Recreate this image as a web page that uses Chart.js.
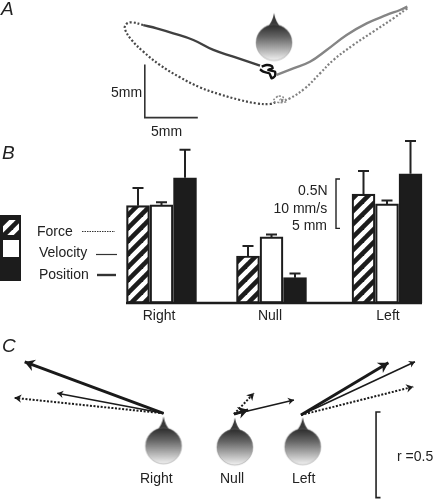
<!DOCTYPE html>
<html>
<head>
<meta charset="utf-8">
<title>Force, velocity and position</title>
<script src="https://cdn.jsdelivr.net/npm/chart.js@4"></script>
<style>
    html, body { margin: 0; padding: 0; background: #fff; overflow: hidden; }
    body { position: relative; width: 433px; height: 499px; }
    canvas { position: absolute; left: 0; }
    .note {
        position: absolute; white-space: nowrap; color: #222;
        font: 14px/16px "Liberation Sans", Arial, sans-serif;
    }
    .letter { font-size: 19px; line-height: 20px; font-style: italic; }
</style>
</head>
<body>
<canvas id="chartA" width="433" height="135" style="top:0"></canvas>
<canvas id="chartB" width="433" height="195" style="top:135px"></canvas>
<canvas id="chartC" width="433" height="169" style="top:330px"></canvas>

<script>
// Panel A : traces de la main, en mm
const leftSolid = [[-1.13, 0.60], [-3.65, 1.45], [-5.53, 2.08], [-7.42, 3.02], [-9.31, 3.65], [-10.88, 4.12], [-12.14, 4.43]];
const leftDotted = [[-12.14, 4.43], [-13.24, 4.69], [-13.77, 4.50], [-13.87, 4.03], [-13.24, 3.02], [-12.14, 1.92], [-10.57, 0.66],
    [-8.68, -0.50], [-6.79, -1.45], [-4.91, -2.11], [-3.02, -2.64], [-1.45, -2.96], [-0.19, -3.02], [0.44, -2.80]];
const rightSolid = [[0.44, -0.28], [2.01, 0.35], [3.58, 0.97], [5.16, 2.08], [7.04, 3.49], [8.93, 4.59], [10.82, 5.38], [12.08, 5.85], [12.77, 6.16]];
const rightDotted = [[12.77, 6.01], [11.45, 5.06], [9.56, 3.81], [7.67, 2.55], [5.79, 1.13], [4.53, -0.13], [3.11, -1.54], [1.70, -2.48], [0.75, -2.80]];
const startBlack = [[-0.97, 0.50], [-0.50, 0.66], [-0.03, 0.57], [0.06, 0.35], [-0.35, 0.19], [0.28, 0.03], [0.28, -0.38], [-0.03, -0.60], [-0.25, -0.13], [-0.82, 0.03], [-1.13, 0.25]];
const startGray = [[0.13, -2.64], [0.60, -2.26], [1.07, -2.39], [0.75, -2.64], [1.23, -2.58], [1.38, -2.80], [0.75, -2.89], [0.19, -2.80]];
const scaleBarMm = [[-12, 0.7], [-12, -4.3], [-7, -4.3]];

// Panel B : moyennes et erreurs
const categories = ['Right', 'Null', 'Left'];
const forceN = [0.987, 0.477, 1.105];
const forceErr = [0.18, 0.10, 0.233];
const velocityMms = [19.9, 13.4, 20.1];
const velocityErr = [0.55, 0.47, 0.67];
const positionMm = [12.7, 2.57, 13.1];
const positionErr = [2.84, 0.41, 3.32];

// Panel C : vecteurs (r) dans l'ordre Right, Null, Left
const forceVec = [[-0.87, 0.09], [0.117, 0.123], [0.655, 0.165]];
const velocityVec = [[-0.62, 0.117], [0.35, 0.083], [0.665, 0.311]];
const positionVec = [[-0.81, 0.30], [0.083, 0.025], [0.51, 0.305]];

// Mise en page
const mmPx = 10.6;
const rPx = 171.4;
const groupX = [161.5, 271.5, 387];
const labelX = [159, 270, 388];
const barStep = 23.5;
const plotH = 168;
const unitPx = 49.3; // hauteur de la barre d'echelle
const vecOrigin = [[0.954, 0.50], [1.365, 0.495], [1.756, 0.49]];
const headC = [[0.954, 0.31], [1.37, 0.303], [1.766, 0.305]];
const ink = '#222';

const notes = [
    ['A', 1, 9, 'letter'], ['B', 2, 153, 'letter'], ['C', 2, 346, 'letter'],
    ['5mm', 111, 92], ['5mm', 151, 131],
    ['Force', 37, 231], ['Velocity', 39, 252], ['Position', 39, 274],
    ['0.5N', 298, 190], ['10 mm/s', 273.5, 208], ['5 mm', 292, 225],
    ['Right', 140, 478], ['Null', 220, 478], ['Left', 292, 478], ['r =0.5', 397, 456]
];
notes.forEach(function (n) {
    let el = document.createElement('span');
    el.className = 'note ' + (n[3] || '');
    el.textContent = n[0];
    el.style.left = n[1] + 'px';
    el.style.top = (n[2] - (n[3] ? 10 : 8)) + 'px';
    document.body.appendChild(el);
});

// Tete vue de dessus, utilisee comme pointStyle
function makeHead() {
    let c = document.createElement('canvas');
    c.width = 40;
    c.height = 62;
    let g = c.getContext('2d');
    g.fillStyle = '#3a3a3a';
    g.beginPath();
    g.moveTo(20, 1.5);
    g.quadraticCurveTo(21.5, 11, 28, 17);
    g.lineTo(12, 17);
    g.quadraticCurveTo(18.5, 11, 20, 1.5);
    g.fill();
    let grad = g.createLinearGradient(0, 13, 0, 49);
    grad.addColorStop(0, '#2b2b2b');
    grad.addColorStop(0.35, '#666');
    grad.addColorStop(1, '#f2f2f2');
    g.fillStyle = grad;
    g.beginPath();
    g.arc(20, 31, 18, 0, Math.PI * 2);
    g.fill();
    g.strokeStyle = 'rgba(120,120,120,0.6)';
    g.lineWidth = 0.7;
    g.stroke();
    return c;
}
const headImg = makeHead();

function makeHatch(ctx) {
    let c = document.createElement('canvas');
    c.width = 13;
    c.height = 13;
    let g = c.getContext('2d');
    g.fillStyle = '#fff';
    g.fillRect(0, 0, 13, 13);
    g.strokeStyle = '#1c1c1c';
    g.lineWidth = 4.6;
    for (let i = -13; i <= 26; i += 13) {
        g.beginPath();
        g.moveTo(i - 3, 16);
        g.lineTo(i + 16, -3);
        g.stroke();
    }
    return ctx.createPattern(c, 'repeat');
}

function toXY(list) {
    return list.map(function (p) { return {x: p[0], y: p[1]}; });
}

function trace(list, color, width, dash) {
    return {
        data: toXY(list),
        showLine: true,
        borderColor: color,
        borderWidth: width,
        borderDash: dash || [],
        tension: 0.4,
        pointRadius: 0,
        fill: false
    };
}

function fullArea(xMin, xMax, yMin, yMax) {
    return {
        x: {type: 'linear', display: false, min: xMin, max: xMax},
        y: {type: 'linear', display: false, min: yMin, max: yMax}
    };
}

const baseOptions = {
    responsive: false,
    animation: false,
    layout: {padding: 0, autoPadding: false},
    plugins: {legend: {display: false}, tooltip: {enabled: false}}
};

// ---- Panel A
new Chart(document.getElementById('chartA'), {
    type: 'scatter',
    data: {
        datasets: [
            Object.assign(trace(startBlack, '#111', 2.4), {tension: 0.2}),
            Object.assign(trace(startGray, '#8a8a8a', 1.6, [2, 1.5]), {tension: 0.2}),
            trace(leftSolid, '#404040', 2.4),
            trace(leftDotted, '#484848', 2.2, [2, 2]),
            trace(rightSolid, '#858585', 2.4),
            trace(rightDotted, '#808080', 2.2, [2, 2]),
            Object.assign(trace(scaleBarMm, '#333', 1.6), {tension: 0}),
            {data: [{x: 0.19, y: 2.78}], pointStyle: headImg, pointRadius: 10}
        ]
    },
    options: Object.assign({}, baseOptions, {
        scales: fullArea(-272 / mmPx, 161 / mmPx, (72 - 135) / mmPx, 72 / mmPx)
    })
});

// ---- Panel B
const errorBars = {
    id: 'errorBars',
    afterDatasetsDraw(chart) {
        let ctx = chart.ctx;
        ctx.save();
        ctx.strokeStyle = ink;
        ctx.lineWidth = 2;
        chart.data.datasets.forEach(function (ds, d) {
            let meta = chart.getDatasetMeta(d);
            let scale = chart.scales[ds.yAxisID];
            meta.data.forEach(function (bar, i) {
                let top = scale.getPixelForValue(ds.values[i] + ds.errors[i]);
                ctx.beginPath();
                ctx.moveTo(bar.x, bar.y);
                ctx.lineTo(bar.x, top);
                ctx.moveTo(bar.x - 5.5, top);
                ctx.lineTo(bar.x + 5.5, top);
                ctx.stroke();
            });
        });
        ctx.restore();
    }
};

// ligne de base, legende et echelle du panel B
const panelExtras = {
    id: 'panelExtras',
    afterDraw(chart) {
        let ctx = chart.ctx;
        let x = chart.scales.x;
        let y = chart.scales.yForce;
        ctx.save();
        ctx.strokeStyle = '#1c1c1c';
        ctx.lineWidth = 2.4;
        ctx.beginPath();
        ctx.moveTo(x.getPixelForValue(126), chart.chartArea.bottom);
        ctx.lineTo(x.getPixelForValue(422), chart.chartArea.bottom);
        ctx.stroke();

        ctx.fillStyle = '#1c1c1c';
        ctx.fillRect(0, 80, 21, 66);
        ctx.fillStyle = hatch;
        ctx.fillRect(3, 85, 16, 15);
        ctx.fillStyle = '#fff';
        ctx.fillRect(3, 105, 16, 17);

        ctx.strokeStyle = '#333';
        ctx.lineWidth = 1.2;
        ctx.setLineDash([1.5, 1]);
        ctx.beginPath();
        ctx.moveTo(82, 96.5);
        ctx.lineTo(115, 96.5);
        ctx.stroke();
        ctx.setLineDash([]);
        ctx.beginPath();
        ctx.moveTo(96, 119.5);
        ctx.lineTo(117, 119.5);
        ctx.stroke();
        ctx.lineWidth = 2.4;
        ctx.beginPath();
        ctx.moveTo(97, 140);
        ctx.lineTo(116, 140);
        ctx.stroke();

        // barre d'echelle 0.5N / 10 mm/s / 5 mm
        let y1 = y.getPixelForValue(1.257);
        let y0 = y.getPixelForValue(0.757);
        ctx.lineWidth = 1.4;
        ctx.strokeStyle = ink;
        ctx.beginPath();
        ctx.moveTo(340, y1);
        ctx.lineTo(336, y1);
        ctx.lineTo(336, y0);
        ctx.lineTo(340, y0);
        ctx.stroke();
        ctx.restore();
    }
};

const ctxB = document.getElementById('chartB').getContext('2d');
const hatch = makeHatch(ctxB);

function barSet(values, errors, offset, fill, axis) {
    return {
        values: values,
        errors: errors,
        data: values.map(function (v, i) { return {x: groupX[i] + offset, y: v}; }),
        backgroundColor: fill,
        borderColor: '#1c1c1c',
        borderWidth: 2.2,
        borderSkipped: false,
        barThickness: 23,
        grouped: false,
        yAxisID: axis
    };
}

function hiddenY(unit) {
    return {type: 'linear', display: false, min: 0, max: plotH / unitPx * unit};
}

new Chart(ctxB, {
    type: 'bar',
    data: {
        datasets: [
            barSet(forceN, forceErr, -barStep, hatch, 'yForce'),
            barSet(velocityMms, velocityErr, 0, '#fff', 'yVelocity'),
            barSet(positionMm, positionErr, barStep, '#1c1c1c', 'yPosition')
        ]
    },
    options: Object.assign({}, baseOptions, {
        scales: {
            x: {
                type: 'linear',
                offset: false,
                min: 0,
                max: 433,
                grid: {display: false, drawTicks: false},
                border: {display: false},
                afterBuildTicks: function (axis) {
                    axis.ticks = labelX.map(function (v) { return {value: v}; });
                },
                afterFit: function (axis) { axis.height = 195 - plotH; },
                ticks: {
                    autoSkip: false,
                    maxRotation: 0,
                    padding: 5,
                    color: ink,
                    font: {size: 14, family: '"Liberation Sans", Arial, sans-serif'},
                    callback: function (value, index) { return categories[index]; }
                }
            },
            yForce: hiddenY(0.5),
            yVelocity: hiddenY(10),
            yPosition: hiddenY(5)
        }
    }),
    plugins: [errorBars, panelExtras]
});

// ---- Panel C
const arrowHeads = {
    id: 'arrowHeads',
    afterDatasetsDraw(chart) {
        let ctx = chart.ctx;
        chart.data.datasets.forEach(function (ds, d) {
            if (!ds.headSize) {
                return;
            }
            let pts = chart.getDatasetMeta(d).data;
            let a = pts[0];
            let b = pts[1];
            let ang = Math.atan2(b.y - a.y, b.x - a.x);
            ctx.save();
            ctx.translate(b.x, b.y);
            ctx.rotate(ang);
            ctx.fillStyle = ds.borderColor;
            ctx.beginPath();
            ctx.moveTo(0, 0);
            ctx.lineTo(-ds.headSize, -ds.headSize * 0.6);
            ctx.lineTo(-ds.headSize * 0.7, 0);
            ctx.lineTo(-ds.headSize, ds.headSize * 0.6);
            ctx.closePath();
            ctx.fill();
            ctx.restore();
        });
    }
};

function arrow(from, vec, width, dash, size) {
    return {
        data: [{x: from[0], y: from[1]}, {x: from[0] + vec[0], y: from[1] + vec[1]}],
        showLine: true,
        borderColor: '#1a1a1a',
        borderWidth: width,
        borderDash: dash,
        pointRadius: 0,
        headSize: size
    };
}

const arrowSets = [];
vecOrigin.forEach(function (o, i) {
    arrowSets.push(arrow(o, forceVec[i], 2, [2, 1.6], 7));
    arrowSets.push(arrow(o, velocityVec[i], 1.5, [], 6));
    arrowSets.push(arrow(o, positionVec[i], 3, [], 10));
});

new Chart(document.getElementById('chartC'), {
    type: 'scatter',
    data: {
        datasets: arrowSets.concat([
            {data: toXY(headC), pointStyle: headImg, pointRadius: 10},
            {
                data: toXY([[2.22, 0.508], [2.194, 0.508], [2.194, 0.008], [2.22, 0.008]]),
                showLine: true,
                borderColor: ink,
                borderWidth: 1.6,
                pointRadius: 0
            }
        ])
    },
    options: Object.assign({}, baseOptions, {
        scales: fullArea(0, 433 / rPx, 0, 169 / rPx)
    }),
    plugins: [arrowHeads]
});
</script>
</body>
</html>
